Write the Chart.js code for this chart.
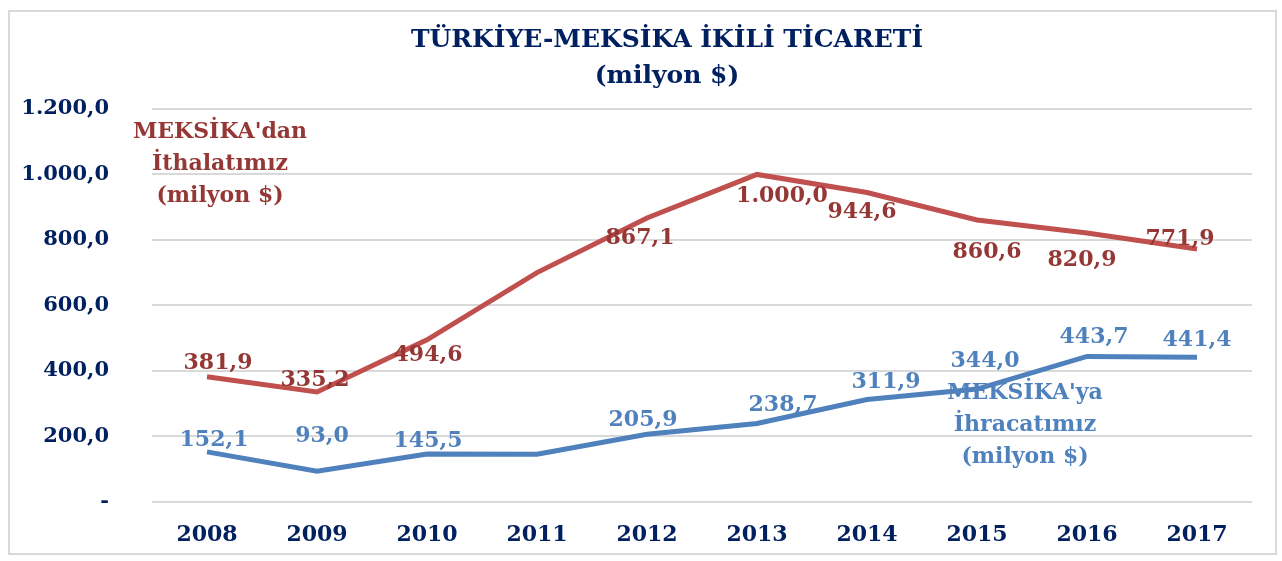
<!DOCTYPE html>
<html>
<head>
<meta charset="utf-8">
<script src="https://cdn.jsdelivr.net/npm/chart.js@4"></script>
<style>
  html, body { margin: 0; padding: 0; background: #fff; }
  #frame { position: absolute; left: 8px; top: 10px; width: 1265px; height: 541px; border: 2px solid #d9d9d9; }
  #wrap { position: absolute; left: 0; top: 0; width: 1282px; height: 561px; }
</style>
</head>
<body>
<div id="frame"></div>
<div id="wrap"><canvas id="tradeChart"></canvas></div>
<script>
// yillar ve degerler (milyon $)
const years = ['2008', '2009', '2010', '2011', '2012', '2013', '2014', '2015', '2016', '2017'];
const importValues = [381.9, 335.2, 494.6, 700.0, 867.1, 1000.0, 944.6, 860.6, 820.9, 771.9];
const exportValues = [152.1, 93.0, 145.5, 145.0, 205.9, 238.7, 311.9, 344.0, 443.7, 441.4];
const yTicks = [0, 200, 400, 600, 800, 1000, 1200];
const titleLines = ['TÜRKİYE-MEKSİKA İKİLİ TİCARETİ', '(milyon $)'];

// 2011 etiketsiz
const importShowLabel = [true, true, true, false, true, true, true, true, true, true];
const exportShowLabel = [true, true, true, false, true, true, true, true, true, true];

// etiket kaydirmalari (px)
const importLabelOffsets = [[11, -13], [-2, -12], [1, 15], [0, 0], [-7, 20], [25, 22], [-5, 20], [10, 32], [-5, 27], [-17, -10]];
const exportLabelOffsets = [[7, -12], [5, -35], [1, -13], [0, 0], [-4, -14], [26, -18], [19, -17], [8, -28], [7, -19], [0, -17]];

const NAVY = '#002060';
const FONT = "'DejaVu Serif', serif";

function fmt(v) {
  const s = v.toFixed(1).split('.');
  return s[0].replace(/\B(?=(\d{3})+(?!\d))/g, '.') + ',' + s[1];
}

// baslik: cizim alaninin biraz solunda ortali
const titlePlugin = {
  id: 'topTitle',
  afterDraw(chart) {
    const ctx = chart.ctx;
    ctx.save();
    ctx.textAlign = 'center';
    ctx.textBaseline = 'middle';
    ctx.fillStyle = NAVY;
    ctx.font = 'bold 25px ' + FONT;
    const cx = (chart.chartArea.left + chart.chartArea.right) / 2 - 35;
    titleLines.forEach((t, i) => ctx.fillText(t, cx, 40 + i * 36));
    ctx.restore();
  }
};

const labelPlugin = {
  id: 'valueLabels',
  afterDatasetsDraw(chart) {
    const ctx = chart.ctx;
    ctx.save();
    ctx.textAlign = 'center';
    ctx.textBaseline = 'middle';
    ctx.font = 'bold 22px ' + FONT;
    chart.data.datasets.forEach((ds, di) => {
      const meta = chart.getDatasetMeta(di);
      meta.data.forEach((pt, i) => {
        if (!ds.showLabel[i]) return;
        const off = ds.labelOffsets[i];
        ctx.fillStyle = ds.labelColor;
        ctx.fillText(fmt(ds.data[i]), pt.x + off[0], pt.y + off[1]);
      });
      // seri adi
      const xs = chart.scales.x, ys = chart.scales.y;
      const n = ds.nameAt;
      const cx = xs.getPixelForValue(n.index) + n.dx;
      let cy = ys.getPixelForValue(n.value);
      ctx.fillStyle = ds.labelColor;
      ds.nameLines.forEach(line => {
        ctx.fillText(line, cx, cy);
        cy += 32;
      });
    });
    ctx.restore();
  }
};

const ctx = document.getElementById('tradeChart').getContext('2d');
const tradeChart = new Chart(ctx, {
  type: 'line',
  data: {
    labels: years,
    datasets: [
      {
        label: "MEKSİKA'dan İthalatımız (milyon $)",
        data: importValues,
        borderColor: '#c0504d',
        borderWidth: 5,
        pointRadius: 0,
        tension: 0,
        labelColor: '#953735',
        showLabel: importShowLabel,
        labelOffsets: importLabelOffsets,
        nameLines: ["MEKSİKA'dan", 'İthalatımız', '(milyon $)'],
        nameAt: { index: 0, dx: 13, value: 1130 }
      },
      {
        label: "MEKSİKA'ya İhracatımız (milyon $)",
        data: exportValues,
        borderColor: '#4f81bd',
        borderWidth: 5,
        pointRadius: 0,
        tension: 0,
        labelColor: '#4f81bd',
        showLabel: exportShowLabel,
        labelOffsets: exportLabelOffsets,
        nameLines: ["MEKSİKA'ya", 'İhracatımız', '(milyon $)'],
        nameAt: { index: 7, dx: 48, value: 331 }
      }
    ]
  },
  options: {
    responsive: true,
    maintainAspectRatio: false,
    animation: false,
    layout: { padding: { left: 0, right: 30, top: 109, bottom: -7 } },
    scales: {
      x: {
        offset: true,
        grid: { display: false, drawTicks: false },
        border: { display: false },
        ticks: { color: NAVY, font: { family: FONT, size: 22, weight: 'bold' }, padding: 20 }
      },
      y: {
        min: 0,
        max: 1200,
        afterBuildTicks: s => { s.ticks = yTicks.map(v => ({ value: v })); },
        afterFit: s => { s.width = 152; },
        grid: { color: '#d9d9d9', lineWidth: 2, drawTicks: false },
        border: { display: false },
        ticks: {
          color: NAVY,
          font: { family: FONT, size: 21, weight: 'bold' },
          padding: 43,
          callback: v => v === 0 ? '-' : fmt(v)
        }
      }
    },
    plugins: {
      legend: { display: false },
      tooltip: { enabled: false },
      title: { display: false }
    }
  },
  plugins: [labelPlugin, titlePlugin]
});
</script>
</body>
</html>
